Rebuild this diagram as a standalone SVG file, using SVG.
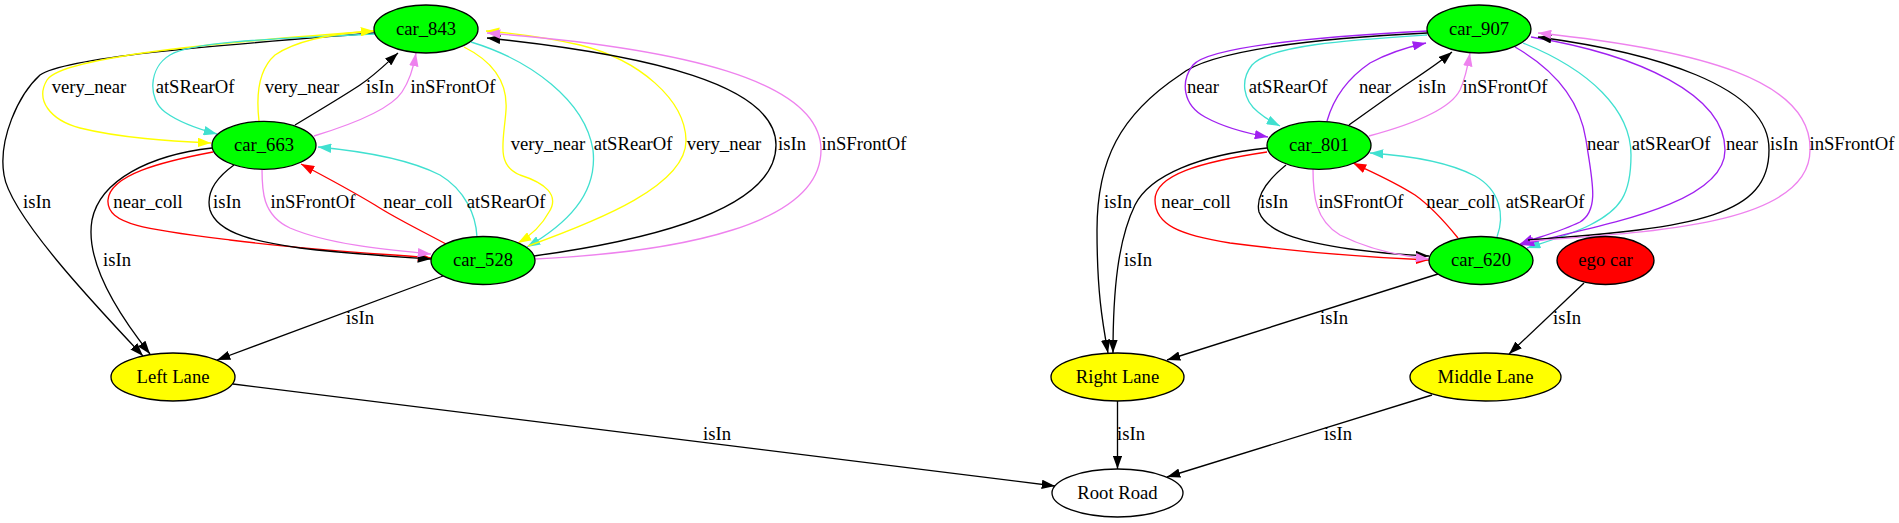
<svg xmlns="http://www.w3.org/2000/svg" width="1899" height="523" viewBox="0 0 1899 523">
<style>
text{font-family:"Liberation Serif","Times New Roman",serif;font-size:18.67px;text-anchor:middle;fill:#000}
.node ellipse{stroke:#000;stroke-width:1.33}
.g{fill:#00ff00}.y{fill:#ffff00}.r{fill:#ff0000}.w{fill:#ffffff}
.edge path{fill:none;stroke-width:1.33}
.k{stroke:#000;marker-end:url(#ak)}
.ye{stroke:#ffff00;marker-end:url(#ay)}
.tq{stroke:#40e0d0;marker-end:url(#at)}
.vi{stroke:#ee82ee;marker-end:url(#av)}
.rd{stroke:#ff0000;marker-end:url(#ar)}
.pu{stroke:#a020f0;marker-end:url(#ap)}
</style>
<defs>
<marker id="ak" markerUnits="userSpaceOnUse" viewBox="0 0 13.4 9.4" markerWidth="13.4" markerHeight="9.4" refX="13.3" refY="4.7" orient="auto"><path d="M0,0 L13.3,4.7 L0,9.4z" fill="#000"/></marker>
<marker id="ay" markerUnits="userSpaceOnUse" viewBox="0 0 13.4 9.4" markerWidth="13.4" markerHeight="9.4" refX="13.3" refY="4.7" orient="auto"><path d="M0,0 L13.3,4.7 L0,9.4z" fill="#ffff00"/></marker>
<marker id="at" markerUnits="userSpaceOnUse" viewBox="0 0 13.4 9.4" markerWidth="13.4" markerHeight="9.4" refX="13.3" refY="4.7" orient="auto"><path d="M0,0 L13.3,4.7 L0,9.4z" fill="#40e0d0"/></marker>
<marker id="av" markerUnits="userSpaceOnUse" viewBox="0 0 13.4 9.4" markerWidth="13.4" markerHeight="9.4" refX="13.3" refY="4.7" orient="auto"><path d="M0,0 L13.3,4.7 L0,9.4z" fill="#ee82ee"/></marker>
<marker id="ar" markerUnits="userSpaceOnUse" viewBox="0 0 13.4 9.4" markerWidth="13.4" markerHeight="9.4" refX="13.3" refY="4.7" orient="auto"><path d="M0,0 L13.3,4.7 L0,9.4z" fill="#ff0000"/></marker>
<marker id="ap" markerUnits="userSpaceOnUse" viewBox="0 0 13.4 9.4" markerWidth="13.4" markerHeight="9.4" refX="13.3" refY="4.7" orient="auto"><path d="M0,0 L13.3,4.7 L0,9.4z" fill="#a020f0"/></marker>
</defs>
<rect width="1899" height="523" fill="#fff"/>
<g id="connectors">
<g class="edge" id="e_843_left"><path class="k" d="M375,33 C250,43 70,55 40,75 C18,95 -2,140 4,175 C10,215 95,305 143,356"/><text x="37" y="208">isIn</text></g>
<g class="edge" id="e_843_663_vn"><path class="ye" d="M374,31 C250,40 62,55 47,80 C35,100 50,120 80,128 C120,138 170,141 211,143"/><text x="89" y="93">very_near</text></g>
<g class="edge" id="e_843_663_rear"><path class="tq" d="M375,34 C300,38 195,40 170,55 C148,68 148,100 165,112 C180,123 198,129 217,134"/><text x="195" y="93">atSRearOf</text></g>
<g class="edge" id="e_663_843_vn"><path class="ye" d="M259,121 C256,95 258,70 275,55 C300,38 340,33 374,31"/><text x="302" y="93">very_near</text></g>
<g class="edge" id="e_663_843_isin"><path class="k" d="M295,125 C320,110 345,95 360,85 C375,75 388,62 398,53"/><text x="380" y="93">isIn</text></g>
<g class="edge" id="e_663_843_front"><path class="vi" d="M314,136 C350,125 390,110 402,92 C410,80 414,65 416,53"/><text x="453" y="93">inSFrontOf</text></g>
<g class="edge" id="e_663_left"><path class="k" d="M212,148 C150,155 100,180 92,220 C85,260 115,310 150,354"/><text x="117" y="266">isIn</text></g>
<g class="edge" id="e_663_528_nc"><path class="rd" d="M213,152 C160,162 110,175 108,200 C106,225 150,230 230,240 C310,250 400,255 431,258"/><text x="148" y="208">near_coll</text></g>
<g class="edge" id="e_663_528_isin"><path class="k" d="M234,165 C220,175 205,190 210,210 C218,235 260,242 300,248 C350,254 400,257 431,259"/><text x="227" y="208">isIn</text></g>
<g class="edge" id="e_663_528_front"><path class="vi" d="M262,169 C262,190 262,215 290,228 C330,245 390,250 431,254"/><text x="313" y="208">inSFrontOf</text></g>
<g class="edge" id="e_528_663_nc"><path class="rd" d="M446,244 C420,230 395,218 375,205 C350,190 320,174 301,164"/><text x="418" y="208">near_coll</text></g>
<g class="edge" id="e_528_663_rear"><path class="tq" d="M477,237 C476,215 465,190 440,175 C405,157 350,150 318,147"/><text x="506" y="208">atSRearOf</text></g>
<g class="edge" id="e_843_528_vn"><path class="ye" d="M464,47 C490,60 508,80 506,110 C504,140 495,165 520,175 C545,183 560,195 549,212 C542,225 530,236 518,243"/><text x="548" y="150">very_near</text></g>
<g class="edge" id="e_843_528_rear"><path class="tq" d="M471,42 C530,60 585,100 593,150 C598,195 565,225 527,247"/><text x="633" y="150">atSRearOf</text></g>
<g class="edge" id="e_528_843_vn"><path class="ye" d="M528,246 C600,220 687,185 686,140 C685,100 640,60 580,45 C540,36 510,33 486,31"/><text x="724" y="150">very_near</text></g>
<g class="edge" id="e_528_843_isin"><path class="k" d="M534,256 C650,240 776,210 776,145 C776,85 650,55 487,38"/><text x="792" y="150">isIn</text></g>
<g class="edge" id="e_528_843_front"><path class="vi" d="M535,259 C680,252 821,225 821,150 C821,80 680,48 487,33"/><text x="864" y="150">inSFrontOf</text></g>
<g class="edge" id="e_528_left"><path class="k" d="M443,276 L217,360"/><text x="360" y="324">isIn</text></g>
<g class="edge" id="e_left_root"><path class="k" d="M233,384 L1055,486"/><text x="717" y="440">isIn</text></g>
<g class="edge" id="e_907_right"><path class="k" d="M1427,33 C1320,38 1210,50 1180,75 C1120,115 1097,160 1097,230 C1097,290 1102,320 1108,353"/><text x="1118" y="208">isIn</text></g>
<g class="edge" id="e_907_801_near"><path class="pu" d="M1428,31 C1330,36 1210,45 1193,65 C1180,82 1183,105 1205,117 C1225,128 1245,133 1268,137"/><text x="1203" y="93">near</text></g>
<g class="edge" id="e_907_801_rear"><path class="tq" d="M1427,35 C1350,40 1270,45 1252,65 C1240,80 1243,100 1258,112 C1265,118 1272,122 1280,126"/><text x="1288" y="93">atSRearOf</text></g>
<g class="edge" id="e_801_907_near"><path class="pu" d="M1327,121 C1333,100 1345,80 1370,63 C1390,52 1408,47 1426,43"/><text x="1375" y="93">near</text></g>
<g class="edge" id="e_801_907_isin"><path class="k" d="M1349,125 C1370,110 1395,92 1410,82 C1425,72 1440,62 1452,52"/><text x="1432" y="93">isIn</text></g>
<g class="edge" id="e_801_907_front"><path class="vi" d="M1369,136 C1410,125 1450,110 1460,90 C1466,77 1468,65 1470,53"/><text x="1505" y="93">inSFrontOf</text></g>
<g class="edge" id="e_801_right"><path class="k" d="M1267,148 C1200,155 1150,175 1135,205 C1118,240 1113,290 1113,353"/><text x="1138" y="266">isIn</text></g>
<g class="edge" id="e_801_620_nc"><path class="rd" d="M1267,152 C1200,162 1155,175 1155,200 C1155,225 1180,235 1230,243 C1300,252 1380,258 1429,260"/><text x="1196" y="208">near_coll</text></g>
<g class="edge" id="e_801_620_isin"><path class="k" d="M1286,165 C1270,178 1255,195 1259,212 C1268,235 1310,243 1350,249 C1380,253 1405,255 1429,256"/><text x="1274" y="208">isIn</text></g>
<g class="edge" id="e_801_620_front"><path class="vi" d="M1313,169 C1313,195 1315,220 1340,235 C1370,250 1400,256 1429,259"/><text x="1361" y="208">inSFrontOf</text></g>
<g class="edge" id="e_620_801_nc"><path class="rd" d="M1458,238 C1445,222 1432,207 1415,195 C1395,182 1372,172 1353,163"/><text x="1461" y="208">near_coll</text></g>
<g class="edge" id="e_620_801_rear"><path class="tq" d="M1497,237 C1505,215 1500,190 1475,176 C1445,160 1400,155 1370,153"/><text x="1545" y="208">atSRearOf</text></g>
<g class="edge" id="e_907_620_near1"><path class="pu" d="M1515,47 C1555,70 1580,100 1586,140 C1592,180 1600,210 1580,222 C1560,232 1535,238 1520,244"/><text x="1603" y="150">near</text></g>
<g class="edge" id="e_907_620_rear"><path class="tq" d="M1523,43 C1590,70 1631,110 1631,155 C1631,195 1620,210 1590,225 C1570,235 1545,242 1527,248"/><text x="1671" y="150">atSRearOf</text></g>
<g class="edge" id="e_907_620_near2"><path class="pu" d="M1531,37 C1640,55 1725,95 1725,150 C1725,205 1600,225 1521,245"/><text x="1742" y="150">near</text></g>
<g class="edge" id="e_620_907_isin"><path class="k" d="M1528,240 C1700,228 1769,215 1769,150 C1770,85 1650,52 1538,37"/><text x="1784" y="150">isIn</text></g>
<g class="edge" id="e_620_907_front"><path class="vi" d="M1530,241 C1650,232 1810,225 1810,150 C1812,80 1700,50 1538,33"/><text x="1852" y="150">inSFrontOf</text></g>
<g class="edge" id="e_620_right"><path class="k" d="M1438,274 L1167,360"/><text x="1334" y="324">isIn</text></g>
<g class="edge" id="e_ego_middle"><path class="k" d="M1584,283 L1509,354"/><text x="1567" y="324">isIn</text></g>
<g class="edge" id="e_right_root"><path class="k" d="M1117.5,401 L1117.5,469"/><text x="1131" y="440">isIn</text></g>
<g class="edge" id="e_middle_root"><path class="k" d="M1432,395 L1167,477"/><text x="1338" y="440">isIn</text></g>
</g>
<g id="nodes">
<g class="node" id="car_843"><ellipse class="g" cx="426" cy="29" rx="52" ry="24"/><text x="426" y="34.5">car_843</text></g>
<g class="node" id="car_663"><ellipse class="g" cx="264" cy="145.3" rx="52" ry="24"/><text x="264" y="150.5">car_663</text></g>
<g class="node" id="car_528"><ellipse class="g" cx="483" cy="260.5" rx="52" ry="24"/><text x="483" y="266">car_528</text></g>
<g class="node" id="left_lane"><ellipse class="y" cx="173" cy="377" rx="62" ry="24"/><text x="173" y="382.5">Left Lane</text></g>
<g class="node" id="root_road"><ellipse class="w" cx="1117.5" cy="493" rx="65.5" ry="24"/><text x="1117.5" y="498.5">Root Road</text></g>
<g class="node" id="car_907"><ellipse class="g" cx="1479" cy="29" rx="52" ry="24"/><text x="1479" y="34.5">car_907</text></g>
<g class="node" id="car_801"><ellipse class="g" cx="1319" cy="145.3" rx="52" ry="24"/><text x="1319" y="150.5">car_801</text></g>
<g class="node" id="car_620"><ellipse class="g" cx="1481" cy="260.5" rx="52" ry="24"/><text x="1481" y="266">car_620</text></g>
<g class="node" id="ego_car"><ellipse class="r" cx="1605.5" cy="260.5" rx="48.5" ry="24"/><text x="1605.5" y="266">ego car</text></g>
<g class="node" id="right_lane"><ellipse class="y" cx="1117.5" cy="377" rx="66.5" ry="24"/><text x="1117.5" y="382.5">Right Lane</text></g>
<g class="node" id="middle_lane"><ellipse class="y" cx="1485.5" cy="377" rx="75.5" ry="24"/><text x="1485.5" y="382.5">Middle Lane</text></g>
</g>
</svg>
